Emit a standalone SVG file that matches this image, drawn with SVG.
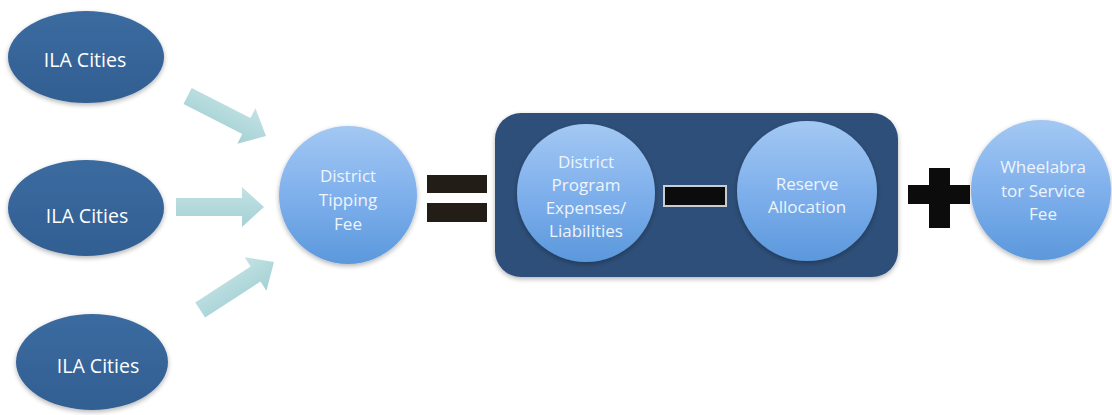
<svg xmlns="http://www.w3.org/2000/svg" width="1112" height="415" viewBox="0 0 1112 415">
  <defs>
    <linearGradient id="ballFill" x1="0" y1="0" x2="0" y2="1">
      <stop offset="0" stop-color="#a3c8f3"/>
      <stop offset="0.5" stop-color="#7fb0ec"/>
      <stop offset="1" stop-color="#5b98dc"/>
    </linearGradient>
    <linearGradient id="cityFill" x1="0" y1="0" x2="0" y2="1">
      <stop offset="0" stop-color="#3b6ba0"/>
      <stop offset="1" stop-color="#325f92"/>
    </linearGradient>
    <linearGradient id="arrowFill" x1="0" y1="0" x2="0" y2="1">
      <stop offset="0" stop-color="#c3e2e4"/>
      <stop offset="1" stop-color="#a4d1d5"/>
    </linearGradient>
    <filter id="soft" x="-10%" y="-10%" width="120%" height="130%">
      <feGaussianBlur in="SourceAlpha" stdDeviation="2.5"/>
      <feOffset dy="2" result="b"/>
      <feComponentTransfer><feFuncA type="linear" slope="0.3"/></feComponentTransfer>
      <feMerge><feMergeNode/><feMergeNode in="SourceGraphic"/></feMerge>
    </filter>
    <!-- block arrow pointing right, tip at origin -->
    <path id="blockArrow" d="M-88,-9 L-22,-9 L-22,-20 L0,0 L-22,20 L-22,9 L-88,9 Z"/>
  </defs>
  <style>
    .city { fill: url(#cityFill); }
    .ball { fill: url(#ballFill); }
    .lbl { font-family: "Open Sans", "Liberation Sans", sans-serif; fill: #ffffff; text-anchor: middle; }
    .cityText { font-size: 19.5px; }
    .ballText { font-size: 17px; fill: #eef4fc; }
    .op { fill: #0c0c0c; }
    .arrow { fill: url(#arrowFill); }
  </style>

  <rect width="1112" height="415" fill="#ffffff"/>

  <!-- source ellipses -->
  <g id="city1">
    <ellipse class="city" cx="86" cy="57" rx="78" ry="46" filter="url(#soft)"/>
    <text class="lbl cityText" x="85" y="67">ILA Cities</text>
  </g>
  <g id="city2">
    <ellipse class="city" cx="86" cy="208" rx="78" ry="48" filter="url(#soft)"/>
    <text class="lbl cityText" x="87" y="223">ILA Cities</text>
  </g>
  <g id="city3">
    <ellipse class="city" cx="92" cy="362" rx="76" ry="48" filter="url(#soft)"/>
    <text class="lbl cityText" x="98" y="373">ILA Cities</text>
  </g>

  <!-- block arrows into the tipping fee -->
  <g id="connectors">
    <use href="#blockArrow" class="arrow" transform="translate(266,136) rotate(27)"/>
    <use href="#blockArrow" class="arrow" transform="translate(264,207)"/>
    <use href="#blockArrow" class="arrow" transform="translate(274,262) rotate(-33)"/>
  </g>

  <g id="tippingFee">
    <circle class="ball" cx="348" cy="195" r="69" filter="url(#soft)"/>
    <text class="lbl ballText" x="348" y="182">District</text>
    <text class="lbl ballText" x="348" y="206">Tipping</text>
    <text class="lbl ballText" x="348" y="230">Fee</text>
  </g>

  <!-- equals sign -->
  <g id="equals">
    <rect x="427" y="175" width="60" height="18" fill="#221d16"/>
    <rect x="427" y="203" width="60" height="19" fill="#221d16"/>
  </g>

  <!-- grouped bracket -->
  <g id="programBox">
    <rect x="495" y="113" width="403" height="164" rx="26" fill="#2e4f79" filter="url(#soft)"/>
  </g>

  <g id="programExpenses">
    <circle class="ball" cx="586" cy="193" r="69" filter="url(#soft)"/>
    <text class="lbl ballText" x="586" y="168">District</text>
    <text class="lbl ballText" x="586" y="191">Program</text>
    <text class="lbl ballText" x="586" y="214">Expenses/</text>
    <text class="lbl ballText" x="586" y="237">Liabilities</text>
  </g>

  <!-- minus sign -->
  <g id="minus">
    <rect x="664" y="186" width="62" height="20" fill="#0c0c0c" stroke="#c9ccd0" stroke-width="2"/>
  </g>

  <g id="reserveAllocation">
    <circle class="ball" cx="807" cy="191" r="70" filter="url(#soft)"/>
    <text class="lbl ballText" x="807" y="190">Reserve</text>
    <text class="lbl ballText" x="807" y="213">Allocation</text>
  </g>

  <!-- plus sign -->
  <g id="plus">
    <rect class="op" x="908" y="185" width="62" height="19"/>
    <rect class="op" x="929" y="168" width="21" height="60"/>
  </g>

  <g id="serviceFee">
    <circle class="ball" cx="1041" cy="190" r="70" filter="url(#soft)"/>
    <text class="lbl ballText" x="1043" y="173">Wheelabra</text>
    <text class="lbl ballText" x="1043" y="197">tor Service</text>
    <text class="lbl ballText" x="1043" y="220">Fee</text>
  </g>
</svg>
